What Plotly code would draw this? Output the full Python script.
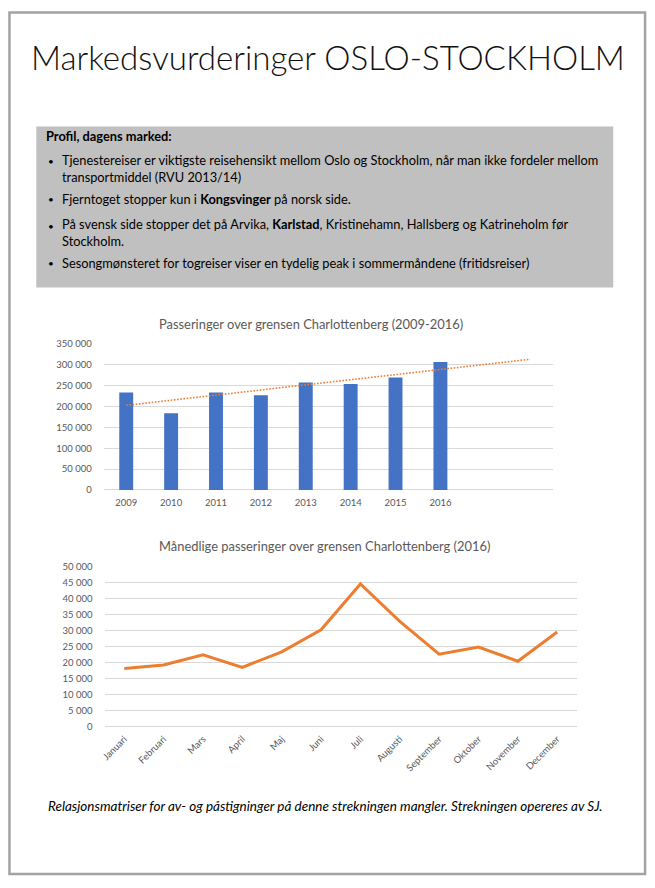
import numpy as np
import plotly.graph_objects as go

W, H = 655, 888

# ---------------- data ----------------
years = [2009, 2010, 2011, 2012, 2013, 2014, 2015, 2016]
passings = [234000, 184000, 234000, 227000, 258000, 254000, 270000, 307000]
forecast_years = [2017, 2018]
bar_ticks = [0, 50000, 100000, 150000, 200000, 250000, 300000, 350000]

months = ["Januari", "Februari", "Mars", "April", "Maj", "Juni", "Juli",
          "Augusti", "September", "Oktober", "November", "December"]
monthly = [18100, 19200, 22400, 18500, 23300, 30200, 44500, 32800, 22600, 24800, 20400, 29500]
line_ticks = [0, 5000, 10000, 15000, 20000, 25000, 30000, 35000, 40000, 45000, 50000]

title = "Markedsvurderinger OSLO-STOCKHOLM"
box_heading = "Profil, dagens marked:"
bullets = [
    ["Tjenestereiser er viktigste reisehensikt mellom Oslo og Stockholm, når man ikke fordeler mellom",
     "transportmiddel (RVU 2013/14)"],
    ["Fjerntoget stopper kun i <b>Kongsvinger</b> på norsk side."],
    ["På svensk side stopper det på Arvika, <b>Karlstad</b>, Kristinehamn, Hallsberg og Katrineholm før",
     "Stockholm."],
    ["Sesongmønsteret for togreiser viser en tydelig peak i sommermåndene (fritidsreiser)"],
]
chart1_title = "Passeringer over grensen Charlottenberg (2009-2016)"
chart2_title = "Månedlige passeringer over grensen Charlottenberg (2016)"
footer = "Relasjonsmatriser for av- og påstigninger på denne strekningen mangler. Strekningen opereres av SJ."

# ---------------- helpers ----------------
def fx(px):
    return px / W

def fy(py):
    return 1 - py / H

def fmt(v):
    return f"{v:,}".replace(",", " ")

FONT = "Lato"
GREY = "#595959"
GRID = "#d9d9d9"
BLUE = "#4472C4"
ORANGE = "#ED7D31"

# linear trend (least squares) of the yearly data, extended 2 periods
idx = np.arange(len(years))
slope, intercept = np.polyfit(idx, passings, 1)
trend_x = years + forecast_years
trend_y = [intercept + slope * i for i in range(len(trend_x))]

fig = go.Figure()

fig.add_trace(go.Bar(x=years, y=passings, width=0.31, marker_color=BLUE,
                     marker_line_width=0, xaxis="x", yaxis="y", showlegend=False))
fig.add_trace(go.Scatter(x=trend_x, y=trend_y, mode="lines",
                         line=dict(color=ORANGE, width=1.6, dash="1.6px,1.6px"),
                         xaxis="x", yaxis="y", showlegend=False))
fig.add_trace(go.Scatter(x=months, y=monthly, mode="lines",
                         line=dict(color=ORANGE, width=3),
                         xaxis="x2", yaxis="y2", showlegend=False))

tickfont = dict(family=FONT, size=9.5, color=GREY)

fig.update_layout(
    width=W, height=H,
    margin=dict(l=0, r=0, t=0, b=0),
    paper_bgcolor="white", plot_bgcolor="rgba(0,0,0,0)",
    xaxis=dict(domain=[fx(100.4), fx(552)], range=[2008.5, 2018.5],
               tickvals=years, ticktext=[str(y) for y in years],
               showgrid=False, zeroline=False, showline=False, ticks="",
               ticklabelstandoff=6,
               tickfont=tickfont, anchor="y"),
    yaxis=dict(domain=[fy(490), fy(342.3)], range=[0, 350000],
               tickvals=bar_ticks, ticktext=[fmt(v) for v in bar_ticks],
               showgrid=True, gridcolor=GRID, gridwidth=1,
               zeroline=True, zerolinecolor=GRID, zerolinewidth=1,
               showline=False, ticks="", ticklabelstandoff=11,
               tickfont=tickfont, anchor="x"),
    xaxis2=dict(domain=[fx(101.2), fx(576.4)], type="category",
                range=[-0.5, 11.5], tickangle=-45,
                showgrid=False, zeroline=False, showline=False, ticks="",
                ticklabelstandoff=4,
                tickfont=tickfont, anchor="y2"),
    yaxis2=dict(domain=[fy(729.7), fy(567.3)], range=[0, 50000],
                tickvals=line_ticks, ticktext=[fmt(v) for v in line_ticks],
                showgrid=True, gridcolor=GRID, gridwidth=1,
                zeroline=True, zerolinecolor=GRID, zerolinewidth=1,
                showline=False, ticks="", ticklabelstandoff=11,
                tickfont=tickfont, anchor="x2"),
)

shapes = [
    # page border
    dict(type="rect", xref="paper", yref="paper",
         x0=fx(5.5), x1=fx(645), y0=fy(879), y1=fy(6.5),
         line=dict(color="#a3a3a3", width=2.5), fillcolor="rgba(0,0,0,0)", layer="below"),
    # grey profile box
    dict(type="rect", xref="paper", yref="paper",
         x0=fx(32.5), x1=fx(613), y0=fy(285), y1=fy(122),
         line=dict(width=0), fillcolor="#c0c0c0", layer="below"),
]
fig.update_layout(shapes=shapes)

TXT = 12.8
ann = []
ann.append(dict(text=title, x=fx(326), y=fy(52), xref="paper", yref="paper",
                xanchor="center", yanchor="middle", showarrow=False,
                font=dict(family=FONT, size=33.1, color="#111111", weight=300)))
ann.append(dict(text=f"<b>{box_heading}</b>", x=fx(40), y=fy(132), xref="paper", yref="paper",
                xanchor="left", yanchor="middle", showarrow=False,
                font=dict(family=FONT, size=TXT, color="#000000")))
first_line_y = [157.3, 195, 222.3, 260]
line_gap = TXT * 1.3
for para, y0 in zip(bullets, first_line_y):
    ann.append(dict(text="•", x=fx(42), y=fy(y0), xref="paper", yref="paper",
                    xanchor="left", yanchor="middle", showarrow=False,
                    font=dict(family=FONT, size=10, color="#000000")))
    n = len(para)
    yc = y0 + (n - 1) * line_gap / 2 - (0.8 if n > 1 else 0)
    ann.append(dict(text="<br>".join(para), x=fx(56.5), y=fy(yc), xref="paper", yref="paper",
                    xanchor="left", yanchor="middle", align="left", showarrow=False,
                    font=dict(family=FONT, size=TXT, color="#000000")))
ann.append(dict(text=chart1_title, x=fx(309), y=fy(322), xref="paper", yref="paper",
                xanchor="center", yanchor="middle", showarrow=False,
                font=dict(family=FONT, size=12.9, color=GREY)))
ann.append(dict(text=chart2_title, x=fx(322), y=fy(546.5), xref="paper", yref="paper",
                xanchor="center", yanchor="middle", showarrow=False,
                font=dict(family=FONT, size=12.9, color=GREY)))
ann.append(dict(text=f"<i>{footer}</i>", x=fx(323.5), y=fy(810), xref="paper", yref="paper",
                xanchor="center", yanchor="middle", showarrow=False,
                font=dict(family=FONT, size=13.5, color="#000000")))
fig.update_layout(annotations=ann)

fig.write_html("out.html")
